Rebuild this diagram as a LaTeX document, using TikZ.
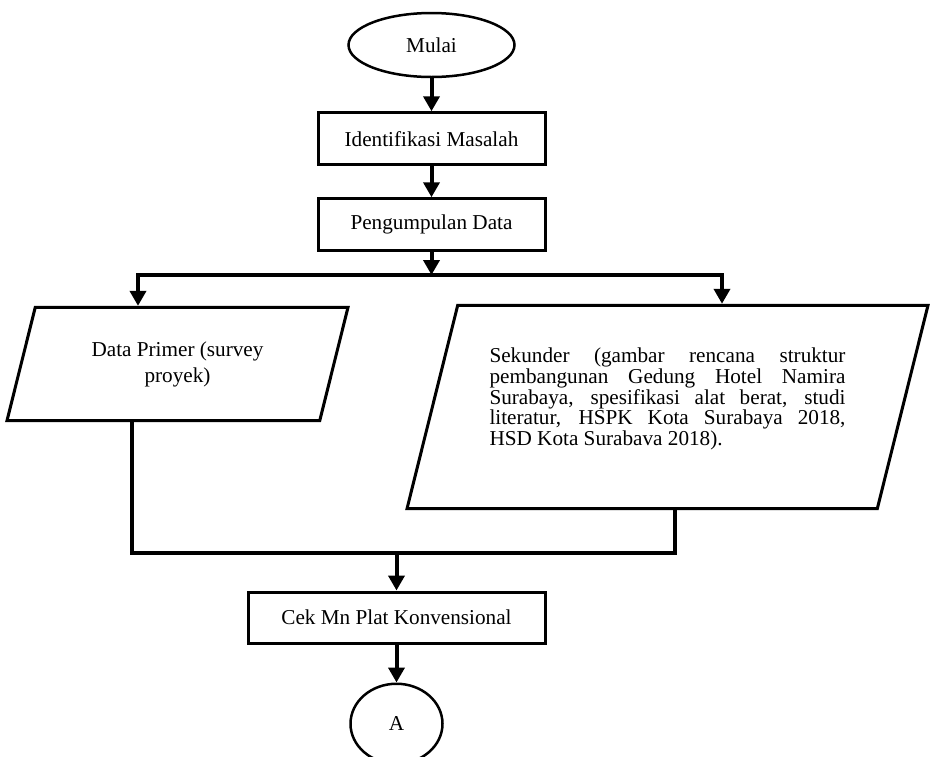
\documentclass[tikz,border=0pt]{standalone}
\usepackage{fontspec}
\setmainfont{Liberation Serif}
\usepackage{tikz}
\usetikzlibrary{arrows.meta, positioning, shapes.geometric}

\begin{document}
\begin{tikzpicture}[
    x=1pt, y=-1pt,
    font=\fontsize{21.2}{26}\selectfont,
    terminal/.style={
        ellipse, draw, line width=2.5pt,
        minimum width=166pt, minimum height=64pt, inner sep=0pt
    },
    proses/.style={
        rectangle, draw, line width=3pt,
        minimum width=227pt, minimum height=52pt, inner sep=0pt
    },
    data/.style={
        trapezium, trapezium left angle=76, trapezium right angle=104,
        trapezium stretches body, draw, line width=3pt, inner xsep=0pt
    },
    konektor/.style={
        ellipse, draw, line width=2.5pt,
        minimum width=92pt, minimum height=80pt, inner sep=0pt
    },
    garis/.style={line width=4pt, line cap=rect},
    arr/.style={-{Triangle[length=15pt, width=16pt]}, line width=4pt}
]
\useasboundingbox (0,0) rectangle (938,756);

\node[terminal] (mulai) at (431.5,45) {Mulai};
\node[proses, below=33pt of mulai] (idm) {Identifikasi Masalah};
\node[proses, below=31pt of idm] (kumpul) {Pengumpulan Data};

\node[data, minimum width=341pt, inner ysep=34pt, align=center] (primer) at (177.5,364)
    {Data Primer (survey\\proyek)};
\node[data, minimum width=521pt, inner ysep=42.6pt, text width=356pt,
      align=justify, font=\fontsize{21.2}{20.7}\selectfont] (sekunder) at (667.5,407)
    {Sekunder (gambar rencana struktur\linebreak
     pembangunan Gedung Hotel Namira\linebreak
     Surabaya, spesifikasi alat berat, studi\linebreak
     literatur, HSPK Kota Surabaya 2018,\linebreak
     HSD Kota Surabava 2018).\par\rule{0pt}{1pt}};

\node[proses, minimum width=297pt, minimum height=51pt] (cek) at (396.5,617.5) {Cek Mn Plat Konvensional};
\node[konektor, below=38pt of cek] (a) {A};

\coordinate (kiri) at (138,275);
\coordinate (kanan) at (722,275);
\coordinate (bawahkiri) at (132,553);
\coordinate (bawahkanan) at (675,553);

\draw[arr] (mulai) -- (idm);
\draw[arr] (idm) -- (kumpul);
\draw[arr] (kumpul.south) -- (kumpul.south |- kiri);
\draw[garis] (kiri) -- (kanan);
\draw[arr] (kiri) -- (kiri |- primer.north);
\draw[arr] (kanan) -- (kanan |- sekunder.north);

\draw[garis] (primer.south -| bawahkiri) -- (bawahkiri) -- (bawahkanan) -- (sekunder.south -| bawahkanan);
\draw[arr] (cek.north |- bawahkiri) -- (cek);
\draw[arr] (cek) -- (a);

\end{tikzpicture}
\end{document}
